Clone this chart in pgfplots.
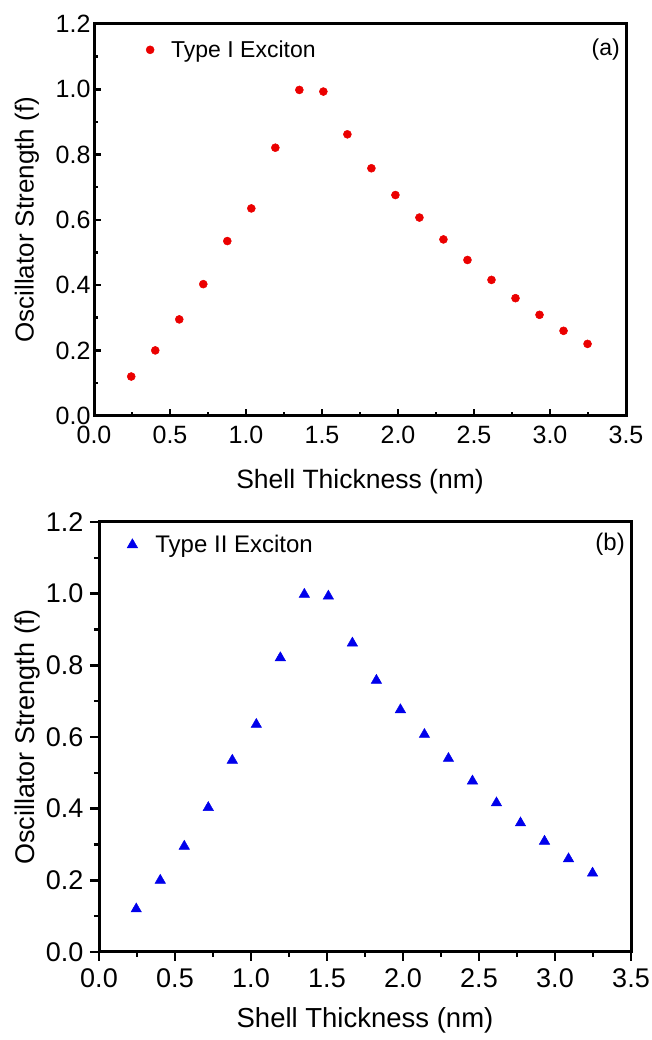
\documentclass[border=0pt]{standalone}
\usepackage{fontspec}
\setmainfont{Liberation Sans}
\usepackage{pgfplots}
\pgfplotsset{compat=1.18}
\usepackage{pgfplotstable}
\definecolor{ptred}{RGB}{235,0,0}
\definecolor{ptblue}{RGB}{0,0,235}
\pgfplotstableread{
x y
0.245 0.120
0.403 0.200
0.561 0.295
0.719 0.403
0.877 0.535
1.035 0.635
1.193 0.821
1.351 0.998
1.509 0.993
1.667 0.862
1.825 0.758
1.983 0.676
2.141 0.607
2.299 0.540
2.457 0.477
2.615 0.416
2.773 0.360
2.931 0.309
3.089 0.260
3.247 0.220
}\typeone
\pgfplotstableread{
x y
0.245 0.120
0.403 0.200
0.561 0.295
0.719 0.403
0.877 0.535
1.035 0.635
1.193 0.821
1.351 0.998
1.509 0.993
1.667 0.862
1.825 0.758
1.983 0.676
2.141 0.607
2.299 0.540
2.457 0.477
2.615 0.416
2.773 0.360
2.931 0.309
3.089 0.260
3.247 0.220
}\typetwo
\pgfplotsset{
  common/.style={
    scale only axis, width=532pt,
    xmin=0, xmax=3.5, ymin=0, ymax=1.2,
    xtick={0,0.5,1,1.5,2,2.5,3,3.5},
    ytick={0,0.2,0.4,0.6,0.8,1.0,1.2},
    minor x tick num=1, minor y tick num=1,
    tick pos=left,
    axis line style={line width=3pt, draw=black},
    major tick style={line width=2.6pt, black},
    minor tick style={line width=2.6pt, black},
    xlabel={Shell Thickness (nm)},
    ylabel={Oscillator Strength (f)},
    legend cell align=left,
    /pgf/number format/.cd, fixed, fixed zerofill, precision=1, assume math mode=true,
  }
}
\begin{document}
\begin{tikzpicture}[x=1pt,y=1pt]
\path[use as bounding box] (0,0) rectangle (651,1040);
% top panel
\begin{axis}[common,
  at={(94pt,624.3pt)}, anchor=south west, height=391.7pt,
  tick align=inside, major tick length=7pt, minor tick length=4pt,
  ticklabel style={font=\fontsize{25}{30}\selectfont},
  xticklabel style={yshift=-7pt},
  xlabel style={font=\fontsize{26.5}{31}\selectfont, at={(axis description cs:0.5,-0.1685)}, anchor=center},
  ylabel style={font=\fontsize{26}{31}\selectfont, at={(axis description cs:-0.126,0.5)}, anchor=center},
  legend image code/.code={\path[draw=none,fill=none] (0pt,0pt) -- (19pt,0pt); \draw[#1] plot coordinates {(0pt,0pt)};},
  legend style={draw=none, fill=none, font=\fontsize{23}{27}\selectfont, at={(axis description cs:0.092,0.934)}, anchor=west},
]
\addplot[only marks, mark=*, mark size=4pt, line width=0.5pt, color=ptred] table[x=x,y=y]{\typeone};
\addlegendentry{Type I Exciton}
\draw[line width=3pt, black] (rel axis cs:0,0) rectangle (rel axis cs:1,1);
\node[font=\fontsize{23}{27}\selectfont, anchor=east] at (axis description cs:0.995,0.934) {(a)};
\end{axis}
% bottom panel
\begin{axis}[common,
  at={(99pt,88pt)}, anchor=south west, height=430pt,
  tick align=outside, major tick length=9pt, minor tick length=5pt,
  ticklabel style={font=\fontsize{27}{32}\selectfont},
  xticklabel style={yshift=-4pt},
  yticklabel style={xshift=-3pt},
  xlabel style={font=\fontsize{27.5}{32}\selectfont, at={(axis description cs:0.5,-0.158)}, anchor=center},
  ylabel style={font=\fontsize{27}{32}\selectfont, at={(axis description cs:-0.135,0.5)}, anchor=center},
  legend image code/.code={\path[draw=none,fill=none] (0pt,0pt) -- (21pt,0pt); \draw[#1] plot coordinates {(0pt,0pt)};},
  legend style={draw=none, fill=none, font=\fontsize{24}{28}\selectfont, at={(axis description cs:0.047,0.947)}, anchor=west},
]
\addplot[only marks, mark=triangle*, mark size=6pt, line width=0.5pt, color=ptblue] table[x=x,y=y]{\typetwo};
\addlegendentry{Type II Exciton}
\draw[line width=3pt, black] (rel axis cs:0,0) rectangle (rel axis cs:1,1);
\node[font=\fontsize{24}{28}\selectfont, anchor=east] at (axis description cs:0.995,0.947) {(b)};
\end{axis}
\end{tikzpicture}
\end{document}
